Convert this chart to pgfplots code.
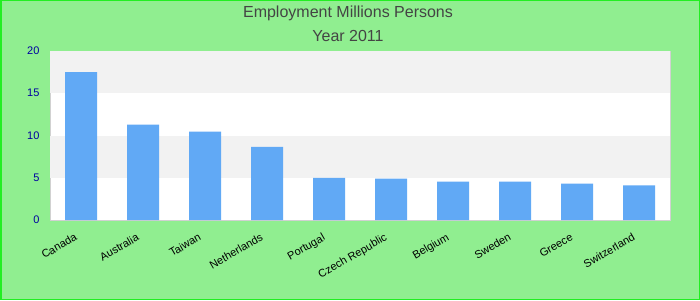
\documentclass[border=0pt]{standalone}
\usepackage{pgfplots}
\pgfplotsset{compat=1.18}
\usepackage{fontspec}
\setmainfont{Liberation Sans}
\definecolor{bgg}{HTML}{90EE90}
\definecolor{brd}{HTML}{22EE22}
\definecolor{bar}{HTML}{61A9F5}
\definecolor{band}{HTML}{F2F2F2}
\definecolor{ttl}{HTML}{444444}
\definecolor{ytk}{HTML}{0000A0}
\begin{document}
\begin{tikzpicture}[x=1pt,y=1pt]
\fill[bgg] (0,0) rectangle (700,300);
\draw[brd, line width=1.5pt] (0.75,0.75) rectangle (699.25,299.25);
\node[ttl, font=\fontsize{16}{18}\selectfont] at (348,287) {Employment Millions Persons};
\node[ttl, font=\fontsize{16}{18}\selectfont] at (348,264) {Year 2011};
\begin{axis}[
  at={(50pt,80pt)}, anchor=south west,
  scale only axis, width=620pt, height=169pt,
  xmin=-0.5, xmax=9.5, ymin=0, ymax=20,
  axis background/.style={fill=white},
  axis line style={draw=black!18, line width=1pt},
  ytick={0,5,10,15,20},
  xtick={0,...,9},
  xticklabels={Canada,Australia,Taiwan,Netherlands,Portugal,Czech Republic,Belgium,Sweden,Greece,Switzerland},
  x tick label style={xshift=-6pt, yshift=-8pt, rotate=30, anchor=north east, font=\fontsize{11}{12}\selectfont, text=black},
  y tick label style={font=\fontsize{11}{12}\selectfont, text=ytk, xshift=-7pt},
  /pgf/number format/assume math mode=true,
  major tick length=0pt,
  ybar, bar width=32pt,
  clip=false,
]
\fill[band] (axis cs:-0.5,5) rectangle (axis cs:9.5,10);
\fill[band] (axis cs:-0.5,15) rectangle (axis cs:9.5,20);
\addplot[fill=bar, draw=none] coordinates {
(0,17.5) (1,11.3) (2,10.45) (3,8.65) (4,5.0) (5,4.9) (6,4.55) (7,4.55) (8,4.3) (9,4.1)
};
\end{axis}
\end{tikzpicture}
\end{document}
